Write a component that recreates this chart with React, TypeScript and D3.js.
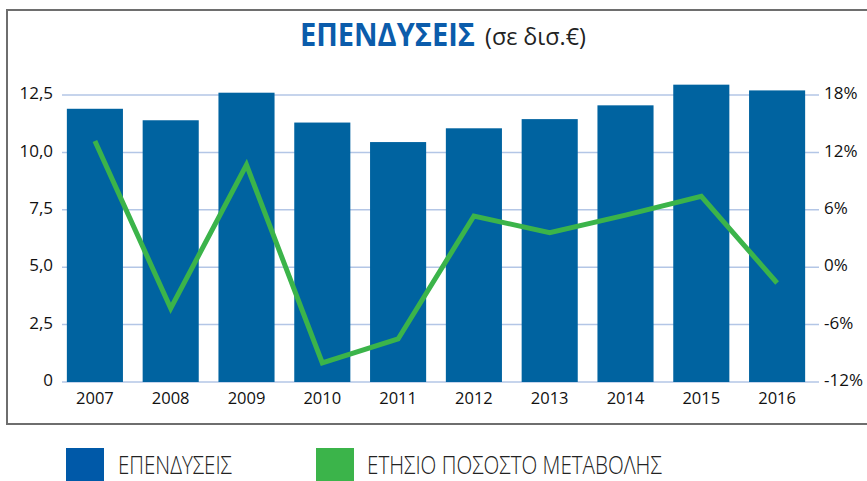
import React, { useLayoutEffect, useRef } from "react";
import * as d3 from "d3";

const years = ["2007", "2008", "2009", "2010", "2011", "2012", "2013", "2014", "2015", "2016"];
const investments = [11.9, 11.4, 12.6, 11.3, 10.45, 11.05, 11.45, 12.05, 12.95, 12.7];
const annualChange = [13.2, -4.3, 10.7, -10.0, -7.5, 5.35, 3.6, 5.45, 7.4, -1.65];
const leftTicks = [0, 2.5, 5, 7.5, 10, 12.5];
const leftTickLabels = ["0", "2,5", "5,0", "7,5", "10,0", "12,5"];
const rightTicks = [-12, -6, 0, 6, 12, 18];
const rightTickLabels = ["-12%", "-6%", "0%", "6%", "12%", "18%"];
const titleMain = "ΕΠΕΝΔΥΣΕΙΣ";
const titleSub = "(σε δισ.€)";
const legendLabels = ["ΕΠΕΝΔΥΣΕΙΣ", "ΕΤΗΣΙΟ ΠΟΣΟΣΤΟ ΜΕΤΑΒΟΛΗΣ"];

const W = 867;
const H = 481;
const BAR = "#0063a0";
const GREEN = "#3bb44a";
const GRID = "#b3c6e6";
const FONT = "'Open Sans', 'Noto Sans', sans-serif";

export default function App() {
  const ref = useRef<SVGSVGElement>(null);
  const x = d3.scaleBand<string>().domain(years).range([57, 815]).paddingInner(0.26).paddingOuter(0.13);
  const yL = d3.scaleLinear().domain([0, 12.5]).range([382, 95]);
  const yR = d3.scaleLinear().domain([-12, 18]).range([382, 95]);
  const line = d3
    .line<number>()
    .x((_, i) => (x(years[i]) as number) + x.bandwidth() / 2)
    .y((d) => yR(d));

  useLayoutEffect(() => {
    const svg = ref.current;
    if (!svg) return;
    svg.querySelectorAll("text[data-w]").forEach((el) => {
      const t = el as SVGTextElement;
      const w = +(t.getAttribute("data-w") || 0);
      const tx = +(t.getAttribute("data-x") || 0);
      const ty = +(t.getAttribute("data-y") || 0);
      const n = t.getComputedTextLength();
      const s = n > 0 ? w / n : 1;
      t.setAttribute("transform", `translate(${tx},${ty}) scale(${s},1)`);
    });
  }, []);

  return (
    <svg ref={ref} width={W} height={H} style={{ position: "absolute", left: 0, top: 0 }} fontFamily={FONT}>
      <rect x={0} y={0} width={W} height={H} fill="#fff" />
      <rect x={7} y={10} width={W + 10} height={414} fill="none" stroke="#6e6e6e" strokeWidth={2} />

      <text data-w={175} data-x={300} data-y={46} transform="translate(300,46)" fontSize={33} fontWeight={700} fill="#0b5cab">
        {titleMain}
      </text>
      <text data-w={101} data-x={485} data-y={45} transform="translate(485,45)" fontSize={24} fill="#222">
        {titleSub}
      </text>

      {leftTicks.map((t) => (
        <line key={"g" + t} x1={62} x2={819} y1={yL(t)} y2={yL(t)} stroke={GRID} strokeWidth={1.5} />
      ))}

      {investments.map((v, i) => (
        <rect key={"b" + i} x={x(years[i])} y={yL(v)} width={x.bandwidth()} height={yL(0) - yL(v)} fill={BAR} />
      ))}

      <path d={line(annualChange) || ""} fill="none" stroke={GREEN} strokeWidth={5} strokeLinejoin="miter" />

      {leftTicks.map((t, i) => (
        <text key={"l" + t} x={53} y={yL(t) - 2} dy="0.36em" fontSize={17} textAnchor="end" fill="#111">
          {leftTickLabels[i]}
        </text>
      ))}
      {rightTicks.map((t, i) => (
        <text key={"r" + t} x={824} y={yR(t) - 2} dy="0.36em" fontSize={17} textAnchor="start" fill="#111">
          {rightTickLabels[i]}
        </text>
      ))}
      {years.map((yv) => (
        <text key={"x" + yv} x={(x(yv) as number) + x.bandwidth() / 2} y={404} fontSize={16.5} textAnchor="middle" fill="#111">
          {yv}
        </text>
      ))}

      <rect x={66} y={448} width={38} height={38} fill="#0059a8" />
      <text data-w={114} data-x={118} data-y={474} transform="translate(118,474)" fontSize={25} fontWeight={300} fill="#222">
        {legendLabels[0]}
      </text>
      <rect x={316} y={448} width={38} height={38} fill={GREEN} />
      <text data-w={295} data-x={367} data-y={474} transform="translate(367,474)" fontSize={25} fontWeight={300} fill="#222">
        {legendLabels[1]}
      </text>
    </svg>
  );
}
